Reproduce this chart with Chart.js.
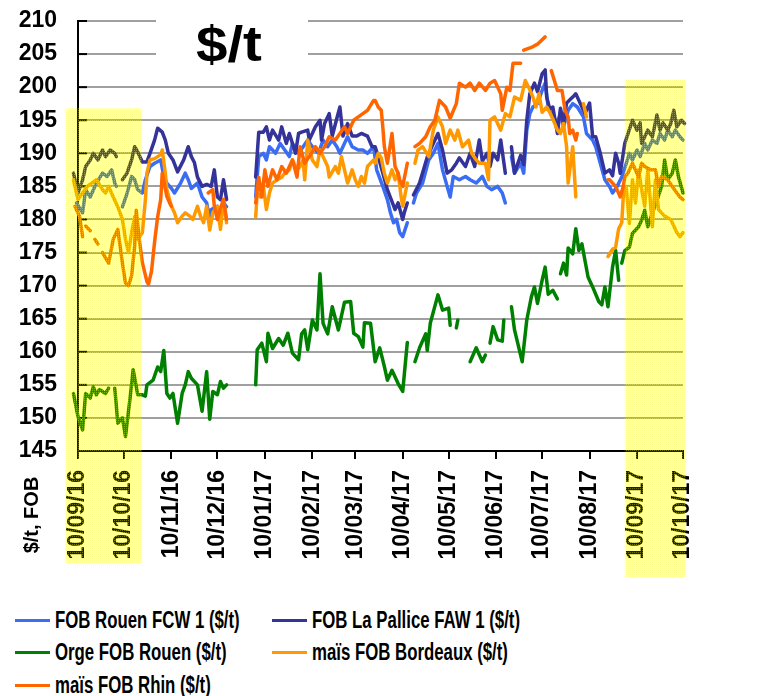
<!DOCTYPE html>
<html>
<head>
<meta charset="utf-8">
<script src="https://cdn.jsdelivr.net/npm/chart.js@4.4.0/dist/chart.umd.min.js"></script>
<style>
  body { margin: 0; background: #fff; }
  #wrap { position: relative; width: 773px; height: 696px; }
  #myChart { position: absolute; left: 0; top: 0; }
  .item { position: absolute; height: 30px; display: flex; align-items: center; white-space: nowrap; }
  .item .line { width: 35px; height: 3px; margin-right: 5px; }
  .item .text { font: bold 23px Arial, "Liberation Sans", sans-serif; transform: scaleX(0.73); transform-origin: left center; }
</style>
</head>
<body>
<div id="wrap">
  <canvas id="myChart" width="773" height="600" style="width:773px;height:600px"></canvas>
  <div id="legend"></div>
</div>
<script>
// x = days since 10/09/2016, y = $/t ; [day, null] breaks the line
const tickLabels = ['10/09/16', '10/10/16', '10/11/16', '10/12/16', '10/01/17', '10/02/17', '10/03/17',
  '10/04/17', '10/05/17', '10/06/17', '10/07/17', '10/08/17', '10/09/17', '10/10/17'];

const rouenFCW = [[-4,183.4],[-1,182.5],[3,181],[5,184.5],[8,183.4],[12,185.5],[16,187],[19,186.5],[22,187.5],[24,185.5],[25,185],[27,null],
  [29,181.9],[32,183.9],[35,186.5],[37,186],[39,184.5],[42,184],[44,186],[47,188],[50,188.5],[54,189],[56,186.5],[58,185.5],[61,184.7],[63,184],[67,185.5],[70,187],[72,186],[74,184.7],[78,185.5],[81,183.4],[84,182.5],[86,180],[87,181.5],[91,182],[93,181],[95,182.5],[97,181.9],[105,null],
  [116,183.4],[118,189.5],[121,190],[123,189],[125,191],[129,190],[132,191.5],[135,190.5],[138,189.5],[140,191.5],[144,190],[147,191],[150,192],[153,191],[157,190],[160,192],[163,191],[166,192],[169,191],[171,190],[176,192.5],[179,191],[183,190.5],[186,190.5],[189,190],[193,191],[195,187.5],[199,185],[202,183],[204,181],[206,179.5],[208,180],[210,178],[212,177.4],[215,179.5],[217,null],
  [219,182.5],[221,184],[225,185.5],[229,189],[232,190],[235,191.5],[238,187.5],[241,185],[243,183.4],[245,186.5],[249,186],[253,186.5],[256,186],[260,185.5],[264,186.5],[267,185],[270,184.5],[274,185],[277,184],[279,182.5],[281,null],
  [283,189.5],[285,187],[289,188.5],[291,187],[293,193.5],[295,196],[297,197],[300,197.5],[303,199.5],[305,200.6],[307,197],[310,195.5],[313,194.6],[315,196],[317,194],[320,196.5],[323,197.5],[326,197],[330,195.5],[332,193],[336,192],[338,191],[341,188.5],[344,186],[347,185],[349,184],[352,185],[355,186.4],[358,188.5],[360,190],[362,189],[365,190.5],[367,189.5],[370,191.5],[372,190.5],[375,192],[378,191.5],[380,193],[383,192],[385,193.5],[388,192.5],[390,193.5],[393,192.5],[395,192]];

const pallice = [[-3,187],[0,184],[3,186],[5,188],[8,189],[10,190],[13,189],[16,190.5],[18,189.5],[21,190.5],[24,190],[25,189.5],[27,null],
  [29,186],[32,187],[35,189],[37,191],[39,190.2],[42,188.7],[45,188.7],[47,190],[50,192],[52,193.8],[55,193.2],[57,192],[59,190],[62,189],[65,187.2],[69,189],[72,191],[74,189.5],[76,188.6],[78,186.4],[81,185],[84,185.3],[87,185],[89,187.5],[91,183.4],[93,183],[95,186],[97,183],[105,null],
  [116,186.4],[118,193.2],[121,193.2],[123,194],[125,192],[127,193.5],[131,192],[133,194],[136,191.5],[138,193],[142,190],[144,193],[146,193.2],[150,193.5],[151,192],[155,194],[158,195],[159,192],[161,194.5],[164,196],[166,192.6],[169,195.3],[171,197],[173,192.6],[176,194.5],[179,192.6],[182,192.6],[185,193],[189,192.6],[192,191],[194,191],[196,189.5],[199,187],[202,184.5],[205,182.7],[207,181.5],[209,182.5],[212,180],[213,181],[215,182.5],[217,null],
  [219,183.7],[223,185.5],[228,189.4],[231,191],[235,193],[238,190.5],[241,187],[244,187.5],[247,188.5],[249,189.3],[253,188],[256,190],[259,188],[262,192],[264,188.8],[267,190],[269,188],[271,190],[274,189],[276,192],[279,187],[281,null],
  [283,191],[285,187],[289,189.7],[291,188.3],[293,195],[295,199],[298,200.6],[300,199.3],[303,202],[305,202.6],[306,198.5],[308,196.7],[310,197],[313,193],[315,196.8],[317,194.6],[319,197.6],[323,198.5],[325,199],[327,198],[329,197],[331,196],[334,197.6],[336,192.5],[338,192.5],[341,190],[344,187],[347,187.5],[349,186.6],[351,190],[353,188.5],[354,187],[357,191.5],[362,195],[365,193.5],[367,194.6],[368,191.5],[372,193.5],[375,192.5],[378,195.8],[380,193.5],[382,194.6],[385,193.5],[387,194.5],[389,196.5],[391,194],[394,195],[396,194.5]];

const orgeRouen = [[-3,153.7],[0,150.2],[3,148.2],[5,153.7],[8,153],[10,154.7],[12,153.5],[14,154.3],[18,153.7],[20,154.5],[22,null],
  [24,154.5],[26,149.2],[29,150],[31,147.2],[34,153],[36,157.3],[39,153.5],[42,153.5],[44,153.3],[45,155],[49,155.7],[52,157.7],[54,157],[56,160.2],[58,153.7],[60,153],[62,153.7],[65,149.2],[68,153.7],[70,155],[72,157],[74,156],[78,155],[81,151],[84,157],[86,149.8],[88,154],[91,153.5],[93,155.5],[95,154.5],[97,155],[105,null],
  [116,155],[117,160.3],[120,161.3],[123,158.5],[124,162.8],[127,160.5],[131,162],[134,161],[137,162.8],[140,159.8],[144,158.8],[146,162.7],[148,163.3],[150,160.3],[153,164.8],[156,163.3],[158,171.8],[160,164.3],[163,162.7],[166,166.8],[170,163.3],[174,167.5],[178,167.6],[180,162.8],[183,162.3],[186,160.7],[187,164.4],[191,164.3],[194,158.5],[197,160.6],[200,157.8],[202,155.7],[205,157.2],[209,155.2],[212,154],[215,161.4],[217,null],
  [220,158.5],[223,160.6],[227,162.7],[228,160.2],[230,164.3],[235,168.6],[238,166.3],[242,166.6],[243,164],[245,null],
  [247,163.6],[248,164.8],[251,null],
  [256,158.5],[260,160.6],[264,158.5],[266,159.5],[268,null],
  [269,161.3],[271,163.8],[274,161.8],[277,161.6],[278,164.8],[280,null],
  [283,166.8],[285,163.3],[290,158.5],[293,164.8],[296,168.3],[298,169.8],[300,167.3],[303,170.8],[305,172.8],[307,168.7],[310,169.3],[313,168],[314,null],
  [315,171.8],[317,173.4],[319,171.6],[320,175.7],[323,174.8],[325,178.6],[327,175.3],[329,176.3],[331,173.8],[333,171.3],[336,169.8],[340,167.6],[342,167.1],[344,169.8],[346,166.8],[349,172.8],[351,175.3],[353,170.8],[354,null],
  [355,173.4],[357,175.3],[360,175.8],[362,177.9],[366,178.9],[368,179.9],[370,181.4],[372,178.9],[375,181],[378,182.9],[381,185],[383,189],[385,186],[388,187],[390,189],[392,186.5],[395,184]];

const maisBordeaux = [[-3,186],[0,183],[3,184],[6,185],[9,185.5],[12,186],[16,184.5],[18,184],[20,185],[23,183.4],[26,181.9],[29,180],[31,177],[33,175],[35,178],[37,180.4],[39,177],[42,178],[44,183],[45,187],[47,189],[50,189.2],[54,189.8],[55,190.5],[57,187],[58,184.5],[61,182],[63,181],[65,179.5],[68,180.5],[70,181],[73,180.5],[75,180],[78,182],[80,180.5],[82,179.5],[84,182],[86,178.4],[88,181],[91,182],[93,178.5],[95,183],[97,179.5],[105,null],
  [116,180.4],[117,184],[119,183.4],[121,185],[123,181.5],[125,184],[127,185.5],[130,186],[133,186.4],[135,187],[138,187.5],[140,189],[143,187.5],[145,188],[147,189],[148,186],[150,192],[153,189],[156,188],[158,190.5],[160,189.5],[163,188],[164,186.4],[168,188],[170,187],[172,189.5],[174,187.5],[176,185.5],[179,187.5],[181,186],[183,185],[185,186.5],[187,185.5],[189,188],[193,189],[194,188.5],[196,190],[198,189.3],[200,187],[202,185.5],[205,187.5],[207,186],[209,187],[211,183.4],[212,182],[215,185.5],[217,null],
  [220,188.5],[222,190.5],[225,191],[229,189.5],[232,193.5],[235,195.5],[238,194],[240,191.5],[243,193.5],[246,192],[248,193.5],[251,191],[255,192],[257,190],[260,189],[262,188.5],[266,188.5],[268,186],[269,195],[272,195.5],[276,193.5],[279,196],[282,195.5],[285,198.5],[289,198],[292,201],[295,199.6],[297,198.5],[299,197],[301,199],[303,196.2],[306,197],[308,196.2],[310,195.2],[313,193.5],[315,193],[317,194.5],[319,191],[320,185.5],[323,191],[325,183.4],[327,null],
  [330,197.5],[332,195.5],[334,null],
  [346,174.4],[349,175.5],[351,175.8],[353,178.6],[355,179.5],[356,183.4],[357,185],[358,184.7],[360,179.4],[362,186],[364,182.5],[366,187.5],[368,184.5],[370,182],[372,187.5],[375,178.9],[377,186],[379,181.5],[381,181],[383,180.5],[387,180],[389,179],[391,178],[393,177.4],[395,178]];

const maisRhin = [[-4,177],[-2,182],[1,180.5],[3,177.4],[4,null],[5,179],[8,178.3],[9,null],[11,177],[13,176.3],[14,null],
  [16,175],[20,173.4],[23,177],[26,178.5],[29,173.4],[31,170.4],[33,170],[35,171.5],[37,176],[38,181.4],[40,177],[42,173.5],[45,170.6],[46,170.2],[48,172.2],[50,176.6],[52,180.4],[54,183],[55,187],[58,183.5],[60,182.4],[61,182],[63,null],
  [85,184],[88,184.5],[89,182],[91,180],[93,181.7],[95,183],[97,180],[105,null],
  [116,182.5],[118,186.4],[120,183.4],[122,187.5],[124,185],[127,187.5],[130,186],[133,188],[136,187],[140,189],[143,186.4],[145,191],[148,188.5],[151,189.5],[155,191],[158,190],[161,191],[164,192.5],[168,192],[171,193],[174,194],[176,193],[180,195],[183,195.5],[186,196],[189,196.5],[193,198],[194,198],[196,197],[198,196.5],[199,194],[200,191],[202,188.5],[205,193],[207,188],[209,187],[210,186],[212,185],[215,188.5],[217,null],
  [220,191],[223,191.5],[227,192.5],[230,194],[233,195],[236,198],[240,197],[243,195.3],[247,197.5],[249,200.6],[253,200],[256,200.6],[259,199.5],[262,200.6],[266,199.5],[269,200.6],[272,201],[276,199],[277,196.5],[280,200],[282,199.5],[284,203.6],[287,203.6],[289,203.6],[290,null],
  [291,205.6],[296,206],[300,206.5],[305,207.6],[307,null],
  [309,202.5],[311,201],[313,199.5],[316,199.5],[318,196.5],[320,195.5],[321,193],[323,193.5],[325,192],[326,193],[330,null],
  [346,186],[347,186],[351,185],[354,183.4],[356,185],[357,186.4],[359,187],[362,188.5],[366,186.4],[368,188.5],[370,188],[374,187.5],[377,187.5],[379,185],[381,186.5],[385,186],[388,185],[391,184],[393,183.4],[395,183],[396,180.4]];

// shaded periods: [from day, to day, top value, px below the axis]
const highlights = [[-8.5, 41.8, 196.8, 112], [357, 397, 201.2, 126]];

function toDay(label) {
  const [d, m, y] = label.split('/').map(Number);
  return (Date.UTC(2000 + y, m - 1, d) - Date.UTC(2016, 8, 10)) / 86400000;
}
const tickDays = tickLabels.map(toDay);

const font = 'Arial, "Liberation Sans", sans-serif';

const series = [
  { label: 'FOB Rouen FCW 1 ($/t)', color: '#3a6cf4', data: rouenFCW },
  { label: 'FOB La Pallice FAW 1 ($/t)', color: '#333399', data: pallice },
  { label: 'Orge FOB Rouen ($/t)', color: '#008000', data: orgeRouen },
  { label: 'maïs FOB Bordeaux ($/t)', color: '#ff9900', data: maisBordeaux },
  { label: 'maïs FOB Rhin ($/t)', color: '#ff6600', data: maisRhin }
];

const decorations = {
  id: 'decorations',
  beforeDatasetsDraw(chart) {
    const { ctx, chartArea, scales: { y } } = chart;
    ctx.save();
    // small inside ticks on the value axis
    ctx.strokeStyle = '#000';
    ctx.lineWidth = 2;
    y.ticks.forEach(t => {
      const py = y.getPixelForValue(t.value);
      ctx.beginPath();
      ctx.moveTo(chartArea.left, py);
      ctx.lineTo(chartArea.left + 9, py);
      ctx.stroke();
    });
    // big title sits on a white box over the gridlines
    ctx.fillStyle = '#fff';
    ctx.fillRect(156, 8, 152, 67);
    ctx.fillStyle = '#000';
    ctx.font = 'bold 50px ' + font;
    ctx.translate(196, 61);
    ctx.scale(1.13, 1);
    ctx.fillText('$/t', 0, 0);
    ctx.restore();

    ctx.save();
    ctx.translate(32, 515);
    ctx.rotate(-Math.PI / 2);
    ctx.textAlign = 'center';
    ctx.textBaseline = 'middle';
    ctx.fillStyle = '#000';
    ctx.font = 'bold 20px ' + font;
    ctx.fillText('$/t, FOB', 0, 0);
    ctx.restore();
  },
  afterDraw(chart) {
    const { ctx, chartArea, scales: { x, y } } = chart;
    // dotted yellow screen, lines stay visible through it
    const pc = document.createElement('canvas');
    pc.width = 2; pc.height = 2;
    const p = pc.getContext('2d');
    p.fillStyle = 'rgba(255,255,60,0.12)';
    p.fillRect(0, 0, 2, 2);
    p.clearRect(0, 0, 1, 1);
    p.fillStyle = 'rgba(255,255,0,0.45)';
    p.fillRect(0, 0, 1, 1);
    ctx.save();
    ctx.fillStyle = ctx.createPattern(pc, 'repeat');
    highlights.forEach(([from, to, top, drop]) => {
      const x0 = x.getPixelForValue(from), x1 = x.getPixelForValue(to);
      const y0 = y.getPixelForValue(top);
      ctx.fillRect(x0, y0, x1 - x0, chartArea.bottom + drop - y0);
    });
    ctx.restore();
  }
};

var ctx = document.getElementById('myChart').getContext('2d');
var myChart = new Chart(ctx, {
  type: 'line',
  data: {
    datasets: series.map((s, i) => ({
      label: s.label,
      data: s.data.map(([d, v]) => ({ x: d, y: v })),
      borderColor: s.color,
      backgroundColor: s.color,
      borderWidth: 3.5,
      pointRadius: 0,
      tension: 0,
      spanGaps: false,
      clip: false,
      borderJoinStyle: 'round',
      borderCapStyle: 'round',
      order: series.length - i
    }))
  },
  options: {
    responsive: false,
    animation: false,
    layout: { padding: { left: 0, right: 90, top: 21, bottom: 0 } },
    plugins: { legend: { display: false }, tooltip: { enabled: false } },
    scales: {
      x: {
        type: 'linear',
        min: 0,
        max: 395,
        afterFit: s => { s.height = 149; },
        afterBuildTicks: s => { s.ticks = tickDays.map(v => ({ value: v })); },
        grid: { drawOnChartArea: false, drawTicks: true, tickLength: 8, color: '#000', lineWidth: 2 },
        border: { color: '#000', width: 2 },
        ticks: {
          autoSkip: false, minRotation: 90, maxRotation: 90, padding: 11,
          color: '#000', font: { family: font, size: 23, weight: 'bold' },
          callback: (v, i) => tickLabels[i]
        }
      },
      y: {
        min: 145,
        max: 210,
        afterFit: s => { s.width = 78; },
        grid: {
          drawTicks: true, tickLength: 21, tickColor: 'rgba(0,0,0,0)', lineWidth: 2,
          color: c => c.tick && c.tick.value === 145 ? 'rgba(0,0,0,0)' : '#a0a0a0'
        },
        border: { color: '#000', width: 2 },
        ticks: { stepSize: 5, padding: 0, color: '#000', font: { family: font, size: 23, weight: 'bold' } }
      }
    }
  },
  plugins: [decorations]
});

// legend in two columns below the plot
const legendPos = [[15, 620], [272, 620], [15, 652], [272, 652], [15, 685]];
const legend = document.getElementById('legend');
series.forEach((s, i) => {
  const item = document.createElement('div');
  item.className = 'item';
  item.style.left = legendPos[i][0] + 'px';
  item.style.top = (legendPos[i][1] - 15) + 'px';
  item.innerHTML = '<span class="line" style="background:' + s.color + '"></span><span class="text">' + s.label + '</span>';
  legend.appendChild(item);
});
</script>
</body>
</html>
